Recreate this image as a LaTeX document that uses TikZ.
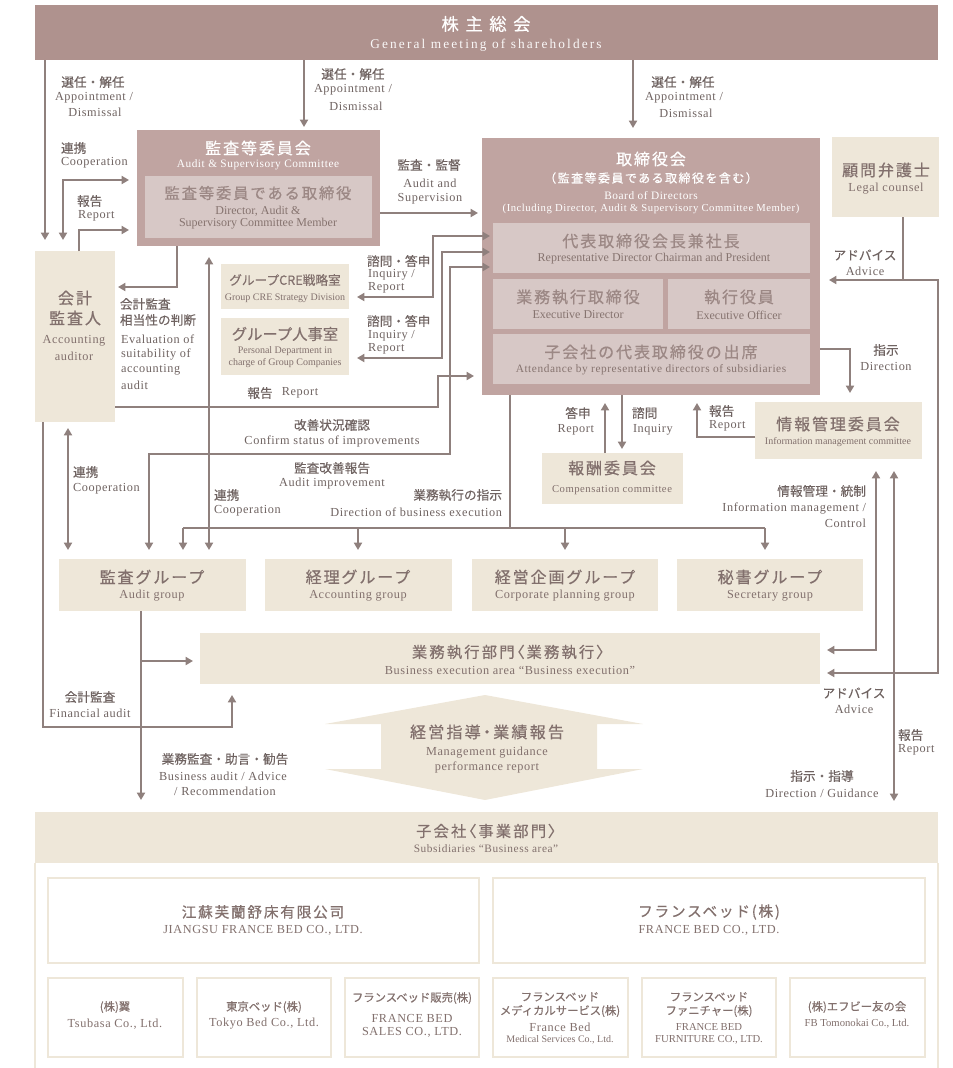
\documentclass[tikz,border=0pt]{standalone}
\usepackage{fontspec}
\usetikzlibrary{arrows.meta,fit,calc}
\setmainfont{Liberation Serif}
\newfontfamily\enf[LetterSpace=5]{Liberation Serif}
\newfontfamily\enc{Liberation Serif}
\newfontfamily\enw[LetterSpace=16]{Liberation Serif}
\newfontfamily\jpf[FakeBold=0.35]{Noto Sans CJK JP}
\newfontfamily\jpt[LetterSpace=12,FakeBold=0.5]{Noto Sans CJK JP}
\newfontfamily\jpp[RawFeature=+palt,LetterSpace=14,FakeBold=0.5]{Noto Sans CJK JP}
\newfontfamily\jpw[LetterSpace=38,FakeBold=0.5]{Noto Sans CJK JP}
\newcommand\myfs[1]{\fontsize{#1}{#1}\selectfont}
\definecolor{banner}{HTML}{AF928E}
\definecolor{boardc}{HTML}{C0A4A1}
\definecolor{innerc}{HTML}{D7C8C6}
\definecolor{beige}{HTML}{EEE7D9}
\definecolor{linec}{HTML}{8F807D}
\definecolor{txtc}{HTML}{6F6361}
\definecolor{boxtxt}{HTML}{82706D}
\definecolor{innertxt}{HTML}{9C8885}
\definecolor{innere}{HTML}{86736F}
\begin{document}
\begin{tikzpicture}[x=0.75pt,y=-0.75pt,
  every node/.style={inner sep=0pt, outer sep=0pt},
  ff/.style={inner sep=0pt, outer sep=0pt, fill=#1},
  sb/.style={inner sep=0pt, outer sep=0pt, draw=beige, line width=1.1pt, fill=white},
  ln/.style={draw=linec, line width=1.4pt},
  arr/.style={ln, -{Triangle[length=5.5pt,width=6pt]}},
  darr/.style={ln, {Triangle[length=5.5pt,width=6pt]}-{Triangle[length=5.5pt,width=6pt]}},
  jl/.style={text=txtc, font=\jpf\myfs{9.5}},
  el/.style={text=txtc, font=\enf\myfs{9.2}},
  jt/.style={text=boxtxt, font=\jpt\myfs{12}},
  et/.style={text=boxtxt, font=\enf\myfs{9.2}},
  it/.style={text=innertxt, font=\jpt\myfs{12}},
  ie/.style={text=innere, font=\enc\myfs{9}},
  sj/.style={text=boxtxt, font=\jpf\myfs{8.5}},
]
\useasboundingbox (0,0) rectangle (953,1068);

% ---------- General meeting ----------
\node[ff=banner, fit={(35,5)(938,60)}] (gm) {};
\node[font=\jpw\myfs{13}, text=white] (gmj) at (486,24) {株主総会};
\node[font=\enw\myfs{10}, text=white!94!banner] (gme) at (486,45) {General meeting of shareholders};

% ---------- Audit & Supervisory Committee ----------
\node[ff=boardc, fit={(137,130)(380,246)}] (ac) {};
\node[ff=innerc, fit={(145,176)(372,238)}] (aci) {};
\node[font=\jpt\myfs{12}, text=white] (acj) at (258,148) {監査等委員会};
\node[font=\enf\myfs{8.5}, text=white] (ace) at (258,165) {Audit \& Supervisory Committee};
\node[it, font=\jpt\myfs{11.5}] (acij) at (258,193) {監査等委員である取締役};
\node[ie] (acie1) at (258,211) {Director, Audit \&};
\node[ie] (acie2) at (258,224) {Supervisory Committee Member};

% ---------- Board ----------
\node[ff=boardc, fit={(482,138)(820,395)}] (bd) {};
\node[font=\jpt\myfs{12}, text=white] (bdj) at (651,159) {取締役会};
\node[font=\jpt\myfs{9}, text=white] (bdj2) at (651,178) {（監査等委員である取締役を含む）};
\node[font=\enf\myfs{8.5}, text=white] (bde) at (651,196) {Board of Directors};
\node[font=\enf\myfs{8}, text=white] (bde2) at (651,209) {(Including Director, Audit \& Supervisory Committee Member)};
\node[ff=innerc, fit={(493,223)(810,273)}] (bd1) {};
\node[it] (bd1j) at (651,241) {代表取締役会長兼社長};
\node[ie] (bd1e) at (654,259) {Representative Director Chairman and President};
\node[ff=innerc, fit={(493,279)(663,329)}] (bd2) {};
\node[it] (bd2j) at (578,297) {業務執行取締役};
\node[ie] (bd2e) at (578,315) {Executive Director};
\node[ff=innerc, fit={(668,279)(810,329)}] (bd3) {};
\node[it] (bd3j) at (739,297) {執行役員};
\node[ie] (bd3e) at (739,315) {Executive Officer};
\node[ff=innerc, fit={(493,334)(810,384)}] (bd4) {};
\node[it] (bd4j) at (651,352) {子会社の代表取締役の出席};
\node[ie, font=\enf\myfs{8.5}] (bd4e) at (651,370) {Attendance by representative directors of subsidiaries};

% ---------- Legal counsel ----------
\node[ff=beige, fit={(832,137)(939,217)}] (lc) {};
\node[jt] (lcj) at (886,170) {顧問弁護士};
\node[et] (lce) at (886,189) {Legal counsel};

% ---------- Accounting auditor ----------
\node[ff=beige, fit={(35,251)(115,422)}] (au) {};
\node[jt] (auj1) at (75,298) {会計};
\node[jt] (auj2) at (75,318) {監査人};
\node[et] (aue1) at (74,341) {Accounting};
\node[et] (aue2) at (74,356) {auditor};

% ---------- CRE / HR ----------
\node[ff=beige, fit={(221,264)(349,309)}] (cre) {};
\node[text=boxtxt, font=\jpf\myfs{9.5}] (crej) at (285,280) {グループCRE戦略室};
\node[text=boxtxt, font=\enc\myfs{7.5}] (cree) at (285,298) {Group CRE Strategy Division};
\node[ff=beige, fit={(221,318)(349,375)}] (hr) {};
\node[text=boxtxt, font=\jpf\myfs{11.5}] (hrj) at (285,334) {グループ人事室};
\node[text=boxtxt, font=\enc\myfs{7.5}] (hre1) at (285,351) {Personal Department in};
\node[text=boxtxt, font=\enc\myfs{7.5}] (hre2) at (285,363) {charge of Group Companies};

% ---------- Compensation / Information ----------
\node[ff=beige, fit={(542,453)(683,504)}] (cc) {};
\node[jt] (ccj) at (612,468) {報酬委員会};
\node[et, font=\enf\myfs{8}] (cce) at (612,490) {Compensation committee};
\node[ff=beige, fit={(755,402)(922,459)}] (im) {};
\node[jt] (imj) at (838,424) {情報管理委員会};
\node[text=boxtxt, font=\enc\myfs{7.5}] (ime) at (838,442) {Information management committee};

% ---------- Groups ----------
\node[ff=beige, fit={(59,559)(246,611)}] (g1) {};
\node[jt] (g1j) at (152,577) {監査グループ};
\node[et] (g1e) at (152,596) {Audit group};
\node[ff=beige, fit={(265,559)(452,611)}] (g2) {};
\node[jt] (g2j) at (358,577) {経理グループ};
\node[et] (g2e) at (358,596) {Accounting group};
\node[ff=beige, fit={(472,559)(658,611)}] (g3) {};
\node[jt] (g3j) at (565,577) {経営企画グループ};
\node[et] (g3e) at (565,596) {Corporate planning group};
\node[ff=beige, fit={(677,559)(863,611)}] (g4) {};
\node[jt] (g4j) at (770,577) {秘書グループ};
\node[et] (g4e) at (770,596) {Secretary group};

% ---------- Business execution ----------
\node[ff=beige, fit={(200,633)(820,684)}] (be) {};
\node[text=boxtxt, font=\jpp\myfs{11.5}] (bej) at (508,652) {業務執行部門〈業務執行〉};
\node[et] (bee) at (510,670) {Business execution area “Business execution”};

% ---------- double block arrow ----------
\fill[beige] (485,695) -- (643,724) -- (597,724) -- (597,769) -- (643,769) -- (485,800)
  -- (325,769) -- (381,769) -- (381,724) -- (325,724) -- cycle;
\node[text=boxtxt, font=\jpp\myfs{12}] (daj) at (487,732) {経営指導・業績報告};
\node[et] (dae1) at (487,753) {Management guidance};
\node[et] (dae2) at (487,767) {performance report};

% ---------- Subsidiaries ----------
\node[ff=beige, fit={(35,812)(938,863)}] (sub) {};
\node[text=boxtxt, font=\jpp\myfs{11.5}] (subj) at (486,831) {子会社〈事業部門〉};
\node[et, font=\enf\myfs{8.5}] (sube) at (486,849) {Subsidiaries “Business area”};
\draw[beige, line width=1pt] (sub.south west) -- (35,1068);
\draw[beige, line width=1pt] (sub.south east) -- (938,1068);

\node[sb, fit={(48,878)(479,963)}] (sj) {};
\node[jt, font=\jpt\myfs{11}] (sjj) at (263,912) {江蘇芙蘭舒床有限公司};
\node[et] (sje) at (263,930) {JIANGSU FRANCE BED CO., LTD.};
\node[sb, fit={(493,878)(925,963)}] (sf) {};
\node[jt, font=\jpt\myfs{11}] (sfj) at (709,912) {フランスベッド(株)};
\node[et] (sfe) at (709,930) {FRANCE BED CO., LTD.};

\node[sb, fit={(48,978)(183,1057)}] (s1) {};
\node[sj] (s1j) at (115,1007) {(株)翼};
\node[et] (s1e) at (115,1024) {Tsubasa Co., Ltd.};
\node[sb, fit={(197,978)(331,1057)}] (s2) {};
\node[sj] (s2j) at (264,1007) {東京ベッド(株)};
\node[et] (s2e) at (264,1024) {Tokyo Bed Co., Ltd.};
\node[sb, fit={(345,978)(479,1057)}] (s3) {};
\node[sj] (s3j) at (412,998) {フランスベッド販売(株)};
\node[et] (s3e1) at (412,1018) {FRANCE BED};
\node[et] (s3e2) at (412,1032) {SALES CO., LTD.};
\node[sb, fit={(493,978)(628,1057)}] (s4) {};
\node[sj] (s4j1) at (560,997) {フランスベッド};
\node[sj] (s4j2) at (560,1011) {メディカルサービス(株)};
\node[et] (s4e1) at (560,1027) {France Bed};
\node[text=boxtxt, font=\enc\myfs{7.5}] (s4e2) at (560,1040) {Medical Services Co., Ltd.};
\node[sb, fit={(642,978)(776,1057)}] (s5) {};
\node[sj] (s5j1) at (709,997) {フランスベッド};
\node[sj] (s5j2) at (709,1011) {ファニチャー(株)};
\node[text=boxtxt, font=\enc\myfs{8}] (s5e1) at (709,1027) {FRANCE BED};
\node[text=boxtxt, font=\enc\myfs{8}] (s5e2) at (709,1040) {FURNITURE CO., LTD.};
\node[sb, fit={(790,978)(925,1057)}] (s6) {};
\node[sj] (s6j) at (857,1007) {(株)エフビー友の会};
\node[text=boxtxt, font=\enc\myfs{8}] (s6e) at (857,1024) {FB Tomonokai Co., Ltd.};

% ================= connectors =================
% C1 GM -> auditor
\coordinate (c1) at (45,240);
\draw[arr] (gm.south -| c1) -- (c1);
\node[jl] (l1a) at (93,82) {選任・解任};
\node[el] (l1b) at (94,98) {Appointment /};
\node[el] (l1c) at (95,112) {Dismissal};
% C2 cooperation auditor <-> AC
\coordinate (c2a) at (63,240); \coordinate (c2b) at (129,180);
\draw[darr] (c2a) |- (c2b);
\node[jl, anchor=west] (l2a) at (61,148) {連携};
\node[el, anchor=west] (l2b) at (61,163) {Cooperation};
% C3 report auditor -> AC
\coordinate (c3x) at (79,0); \coordinate (c3b) at (129,230);
\draw[arr] (au.north -| c3x) |- (c3b);
\node[jl, anchor=west] (l3a) at (77,201) {報告};
\node[el, anchor=west] (l3b) at (78,216) {Report};
% C4 GM -> AC
\coordinate (c4) at (304,127);
\draw[arr] (gm.south -| c4) -- (c4);
\node[jl] (l4a) at (353,74) {選任・解任};
\node[el] (l4b) at (353,90) {Appointment /};
\node[el] (l4c) at (356,106) {Dismissal};
% C5 AC -> board
\coordinate (c5) at (478,213);
\draw[arr] (ac.east |- c5) -- (c5);
\node[jl] (l5a) at (429,165) {監査・監督};
\node[el] (l5b) at (430,183) {Audit and};
\node[el] (l5c) at (430,199) {Supervision};
% C6 GM -> board
\coordinate (c6) at (633,128);
\draw[arr] (gm.south -| c6) -- (c6);
\node[jl] (l6a) at (683,82) {選任・解任};
\node[el] (l6b) at (684,98) {Appointment /};
\node[el] (l6c) at (686,113) {Dismissal};
% C7 AC -> auditor
\coordinate (c7x) at (177,0); \coordinate (c7) at (118,287);
\draw[arr] (ac.south -| c7x) |- (c7);
\node[jl, anchor=west] (l7a) at (120,304) {会計監査};
\node[jl, anchor=west] (l7b) at (120,320) {相当性の判断};
\node[el, anchor=west] (l7c) at (121,339) {Evaluation of};
\node[el, anchor=west] (l7d) at (121,354) {suitability of};
\node[el, anchor=west] (l7e) at (121,370) {accounting};
\node[el, anchor=west] (l7f) at (121,385) {audit};
% C8 cooperation AC <-> audit group
\coordinate (c8a) at (209,257); \coordinate (c8b) at (209,550);
\draw[darr] (c8a) -- (c8b);
\node[jl, anchor=west] (l8a) at (214,495) {連携};
\node[el, anchor=west] (l8b) at (214,511) {Cooperation};
% C9 board <-> CRE
\coordinate (c9a) at (490,236); \coordinate (c9b) at (433,297); \coordinate (c9c) at (357,297);
\draw[darr] (c9a) -| (c9b) -- (c9c);
\node[jl, anchor=west] (l9a) at (367,261) {諮問・答申};
\node[el, anchor=west] (l9b) at (368,275) {Inquiry /};
\node[el, anchor=west] (l9c) at (368,288) {Report};
% C10 board <-> HR
\coordinate (c10a) at (490,252); \coordinate (c10b) at (442,358); \coordinate (c10c) at (357,358);
\draw[darr] (c10a) -| (c10b) -- (c10c);
\node[jl, anchor=west] (l10a) at (367,321) {諮問・答申};
\node[el, anchor=west] (l10b) at (368,336) {Inquiry /};
\node[el, anchor=west] (l10c) at (368,349) {Report};
% C11 board <-> audit group
\coordinate (c11a) at (490,267); \coordinate (c11b) at (450,454); \coordinate (c11c) at (149,550);
\draw[darr] (c11a) -| (c11b) -| (c11c);
\node[jl] (l11a) at (332,425) {改善状況確認};
\node[el] (l11b) at (332,441) {Confirm status of improvements};
\node[jl] (l11c) at (332,468) {監査改善報告};
\node[el] (l11d) at (332,484) {Audit improvement};
% C12 auditor -> board report
\coordinate (c12y) at (0,407); \coordinate (c12b) at (438,376); \coordinate (c12c) at (474,376);
\draw[arr] (au.east |- c12y) -| (c12b) -- (c12c);
\node[jl] (l12a) at (260,393) {報告};
\node[el] (l12b) at (300,393) {Report};
% C13 cooperation auditor <-> audit group
\coordinate (c13a) at (68,428); \coordinate (c13b) at (68,550);
\draw[darr] (c13a) -- (c13b);
\node[jl, anchor=west] (l13a) at (73,472) {連携};
\node[el, anchor=west] (l13b) at (73,489) {Cooperation};
% C14 financial audit
\coordinate (c14x) at (43,0); \coordinate (c14b) at (232,727); \coordinate (c14c) at (232,695);
\draw[arr] (au.south -| c14x) |- (c14b) -- (c14c);
\node[jl] (l14a) at (90,697) {会計監査};
\node[el] (l14b) at (90,713) {Financial audit};
% C15 direction of business execution
\coordinate (c15x) at (510,0); \coordinate (c15j) at (510,528);
\coordinate (c15l) at (183,528); \coordinate (c15r) at (765,528);
\coordinate (c15m1) at (358,528); \coordinate (c15m2) at (565,528);
\draw[ln] (bd.south -| c15x) -- (c15j);
\draw[ln] (c15l) -- (c15r);
\coordinate (t1) at (183,550); \coordinate (t2) at (358,550);
\coordinate (t3) at (565,550); \coordinate (t4) at (765,550);
\draw[arr] (c15l) -- (t1);
\draw[arr] (c15m1) -- (t2);
\draw[arr] (c15m2) -- (t3);
\draw[arr] (c15r) -- (t4);
\node[jl, anchor=east] (l15a) at (502,495) {業務執行の指示};
\node[el, anchor=east] (l15b) at (502,512) {Direction of business execution};
% C16 compensation -> board (report)
\coordinate (c16x) at (605,0); \coordinate (c16) at (605,403);
\draw[arr] (cc.north -| c16x) -- (c16);
\node[jl] (l16a) at (578,413) {答申};
\node[el, anchor=east] (l16b) at (594,430) {Report};
% C17 board -> compensation (inquiry)
\coordinate (c17x) at (622,0); \coordinate (c17) at (622,449);
\draw[arr] (bd.south -| c17x) -- (c17);
\node[jl, anchor=west] (l17a) at (632,413) {諮問};
\node[el, anchor=west] (l17b) at (633,430) {Inquiry};
% C18 info mgmt -> board (report)
\coordinate (c18y) at (0,437); \coordinate (c18) at (697,403);
\draw[arr] (im.west |- c18y) -| (c18);
\node[jl, anchor=west] (l18a) at (709,411) {報告};
\node[el, anchor=west] (l18b) at (709,426) {Report};
% C19 board -> info mgmt (direction)
\coordinate (c19y) at (0,349); \coordinate (c19) at (850,393);
\draw[arr] (bd.east |- c19y) -| (c19);
\node[jl] (l19a) at (886,350) {指示};
\node[el] (l19b) at (886,366) {Direction};
% C20 legal counsel advice
\coordinate (c20x) at (903,0); \coordinate (c20a) at (903,280); \coordinate (c20b) at (829,280);
\coordinate (c20c) at (938,673); \coordinate (c20d) at (827,673);
\draw[arr] (lc.south -| c20x) -- (c20a) -- (c20b);
\draw[arr] (c20a) -| (c20c) -- (c20d);
\node[jl] (l20a) at (865,255) {アドバイス};
\node[el] (l20b) at (865,271) {Advice};
\node[jl] (l20c) at (854,693) {アドバイス};
\node[el] (l20d) at (854,709) {Advice};
% C21 info mgmt <-> business execution
\coordinate (c21a) at (827,650); \coordinate (c21b) at (876,471);
\draw[darr] (c21a) -| (c21b);
\node[jl, anchor=east] (l21a) at (866,491) {情報管理・統制};
\node[el, anchor=east] (l21b) at (866,508) {Information management /};
\node[el, anchor=east] (l21c) at (866,523) {Control};
% C22 info mgmt <-> subsidiaries
\coordinate (c22a) at (894,471); \coordinate (c22b) at (894,801);
\draw[darr] (c22a) -- (c22b);
\node[jl, anchor=west] (l22a) at (898,735) {報告};
\node[el, anchor=west] (l22b) at (898,750) {Report};
\node[jl] (l22c) at (822,776) {指示・指導};
\node[el] (l22d) at (822,793) {Direction / Guidance};
% C23 audit group -> subsidiaries / business execution
\coordinate (c23x) at (141,0); \coordinate (c23) at (141,800);
\coordinate (c23j) at (141,661); \coordinate (c23b) at (193,661);
\draw[arr] (g1.south -| c23x) -- (c23);
\draw[arr] (c23j) -- (c23b);
\node[jl] (l23a) at (225,759) {業務監査・助言・勧告};
\node[el] (l23b) at (223,776) {Business audit / Advice};
\node[el] (l23c) at (225,791) {/ Recommendation};
\end{tikzpicture}
\end{document}
